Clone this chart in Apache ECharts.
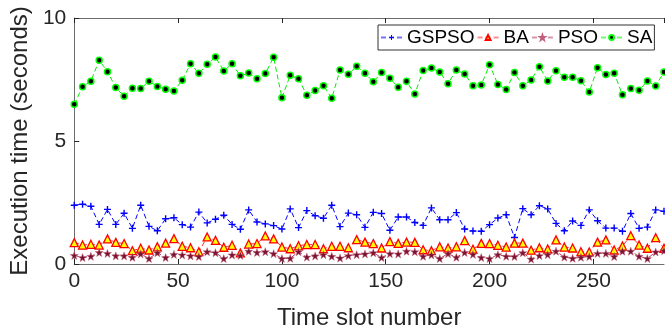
<!DOCTYPE html>
<html><head><meta charset="utf-8">
<script src="https://cdn.jsdelivr.net/npm/echarts@6/dist/echarts.min.js"></script>
<style>html,body{margin:0;padding:0;background:#fff}#c{width:665px;height:335px}</style>
</head><body><div id="c"></div>
<script>
var timeSlots = [];
for (var k = 0; k < 72; k++) timeSlots.push(k * 4);
var gspso = [2.39,2.43,2.35,1.61,2.22,1.61,2.06,1.45,2.39,1.53,1.35,1.84,1.88,1.60,1.50,2.11,1.67,1.82,
  1.98,1.61,1.41,2.20,1.71,1.63,1.56,1.42,2.24,1.48,2.17,1.96,1.86,2.39,1.52,2.07,2.00,1.49,
  2.10,2.05,1.37,1.91,1.91,1.69,1.57,2.28,1.80,1.80,2.09,1.42,1.34,1.33,1.60,1.87,2.00,
  1.08,2.25,2.00,2.37,2.24,1.65,1.35,1.75,1.57,2.20,1.76,1.46,1.46,1.33,2.05,1.45,1.50,2.20,2.14];
var ba = [0.87,0.77,0.80,0.77,1.02,0.88,0.83,0.54,0.64,0.57,0.70,0.85,1.03,0.72,0.66,0.50,1.10,0.96,
  0.68,0.76,0.45,0.81,0.83,1.14,1.02,0.69,0.62,0.74,0.79,0.79,0.62,0.72,0.72,0.66,0.99,0.89,
  0.83,0.65,0.91,0.84,0.89,0.88,0.58,0.54,0.70,0.65,0.70,0.95,0.60,0.84,0.83,0.76,0.69,
  0.85,0.85,0.56,0.66,0.61,0.98,0.69,0.65,0.50,0.49,0.89,0.98,0.57,0.73,1.15,0.77,0.64,1.07,0.64];
var pso = [0.35,0.26,0.31,0.47,0.43,0.33,0.33,0.27,0.41,0.22,0.46,0.26,0.39,0.37,0.33,0.30,0.50,0.46,
  0.22,0.37,0.35,0.52,0.47,0.50,0.42,0.22,0.23,0.50,0.28,0.33,0.38,0.31,0.24,0.34,0.38,0.41,
  0.46,0.26,0.42,0.41,0.52,0.50,0.31,0.37,0.22,0.42,0.27,0.47,0.39,0.26,0.22,0.38,0.31,
  0.30,0.46,0.20,0.34,0.38,0.52,0.28,0.23,0.27,0.30,0.43,0.43,0.30,0.52,0.52,0.31,0.22,0.49,0.54];
var sa = [6.49,7.21,7.43,8.28,7.82,7.17,6.82,7.14,7.13,7.43,7.22,7.10,7.03,7.47,8.14,7.75,8.12,8.41,
  7.85,8.14,7.65,7.76,7.53,7.74,8.40,6.76,7.67,7.53,6.86,7.05,7.25,6.74,7.89,7.71,8.04,7.75,
  7.41,7.78,7.55,7.18,7.43,6.91,7.87,7.97,7.80,7.33,7.89,7.72,7.25,7.28,8.10,7.30,7.09,
  7.78,7.25,7.48,8.02,7.44,7.86,7.59,7.59,7.45,6.99,7.98,7.70,7.75,6.88,7.13,7.06,7.44,7.24,7.80];
var seriesNames = ['GSPSO','BA','PSO','SA'];
var xTitle = 'Time slot number';
var yTitle = 'Execution time (seconds)';

function pairs(arr){ return arr.map(function(v,i){ return [timeSlots[i], v]; }); }

var plusPath = 'path://M4,0h2v4h4v2h-4v4h-2v-4h-4v-2h4z';
var starPath = 'path://M0,-10L2.35,-3.24L9.51,-3.09L3.8,1.24L5.88,8.09L0,4L-5.88,8.09L-3.8,1.24L-9.51,-3.09L-2.35,-3.24Z';
var axisCol = '#6e6e6e';
var txtCol = '#262626';
var font = 'Liberation Sans, Arial, sans-serif';

var chart = echarts.init(document.getElementById('c'), null, {renderer:'canvas'});
chart.setOption({
  animation: false,
  backgroundColor: '#fff',
  grid: {left: 70, right: 1, top: 18, bottom: 71, containLabel: false},
  legend: {
    data: seriesNames,
    left: 378, top: 25,
    padding: [3, 2, 3, 2],
    itemGap: 2, itemWidth: 21, itemHeight: 6,
    borderColor: '#333', borderWidth: 1, backgroundColor: '#fff',
    textStyle: {fontFamily: font, fontSize: 19, color: '#000'},
    lineStyle: {opacity: 0.55}
  },
  xAxis: [{
    type: 'value', min: 0, max: 284, interval: 50, position: 'bottom',
    name: xTitle, nameLocation: 'middle', nameGap: 42,
    nameTextStyle: {fontFamily: font, fontSize: 24, color: txtCol},
    axisLine: {show: true, lineStyle: {color: axisCol, width: 1}},
    axisTick: {show: true, inside: true, length: 5, lineStyle: {color: txtCol}},
    axisLabel: {fontFamily: font, fontSize: 21, color: txtCol, margin: 7, showMaxLabel: false},
    splitLine: {show: false}
  },{
    type: 'value', min: 0, max: 284, interval: 50, position: 'top',
    axisLine: {show: true, onZero: false, lineStyle: {color: axisCol, width: 1}},
    axisTick: {show: true, inside: true, length: 5, lineStyle: {color: txtCol}},
    axisLabel: {show: false},
    splitLine: {show: false}
  }],
  yAxis: {
    type: 'value', min: 0, max: 10, interval: 5,
    name: yTitle, nameLocation: 'middle', nameGap: 36,
    nameTextStyle: {fontFamily: font, fontSize: 24, color: txtCol},
    axisLine: {show: true, lineStyle: {color: axisCol, width: 1}},
    axisTick: {show: true, inside: true, length: 5, lineStyle: {color: txtCol}},
    axisLabel: {fontFamily: font, fontSize: 21, color: txtCol, margin: 8},
    splitLine: {show: false}
  },
  series: [
    {name: 'GSPSO', type: 'line', data: pairs(gspso), symbol: plusPath, symbolSize: 7,
     itemStyle: {color: '#0000ff'}, lineStyle: {color: '#0000ff', width: 1, type: [5,3]}},
    {name: 'BA', type: 'line', data: pairs(ba), symbol: 'triangle', symbolSize: 8,
     itemStyle: {color: '#ffff00', borderColor: '#ff0000', borderWidth: 1.3},
     lineStyle: {color: '#ff3030', width: 1, type: [5,3]}},
    {name: 'PSO', type: 'line', data: pairs(pso), symbol: starPath, symbolSize: 8,
     itemStyle: {color: '#7a1230', borderColor: '#c0607a', borderWidth: 0.5},
     lineStyle: {color: '#b04060', width: 1, type: [5,3]}},
    {name: 'SA', type: 'line', data: pairs(sa), symbol: 'circle', symbolSize: 6,
     itemStyle: {color: '#000000', borderColor: '#00ff00', borderWidth: 1.5},
     lineStyle: {color: '#00ee00', width: 1, type: [5,3]}}
  ]
});
</script></body></html>
